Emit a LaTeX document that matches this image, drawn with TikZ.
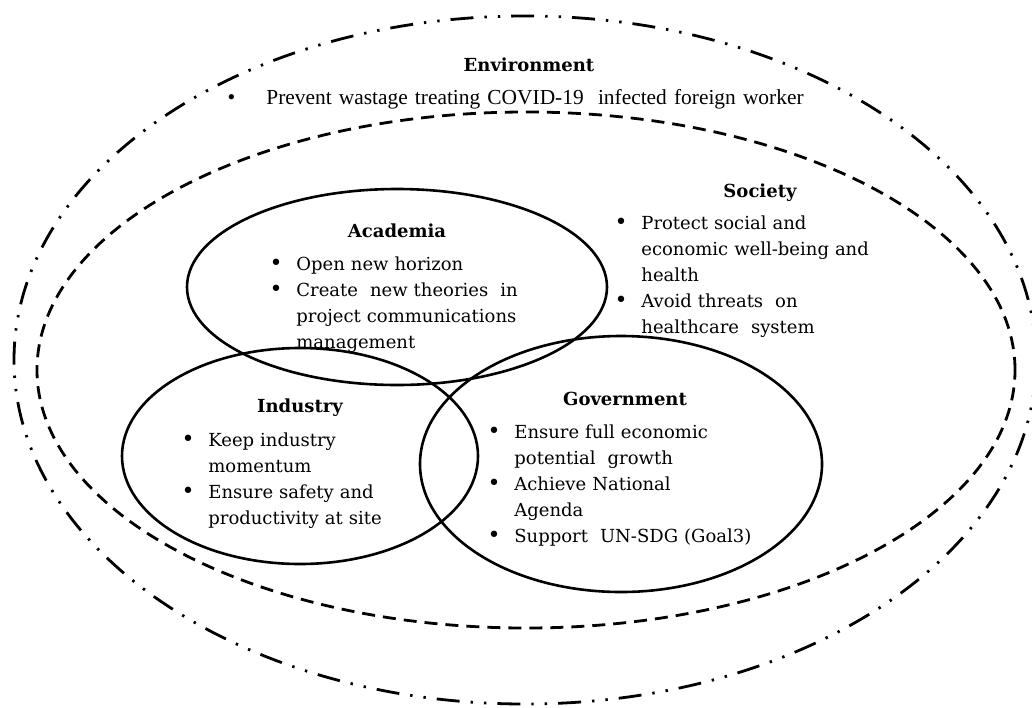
\documentclass[tikz,border=0pt]{standalone}
\usepackage{fontspec}
\setmainfont{DejaVu Serif}
\newfontfamily\timesfont{Liberation Serif}
\newcommand{\bul}[1][13pt]{\par\noindent\hangindent=#1\hangafter=1\makebox[#1][l]{\hspace{-0.4pt}\raisebox{-0.3pt}{\fontsize{11}{13}\selectfont\textbullet}}}

\begin{document}
\begin{tikzpicture}[x=0.5pt,y=-0.5pt,
  venn/.style={line width=1.3pt},
  society/.style={line width=1.4pt,dash pattern=on 6.5pt off 4pt},
  environ/.style={line width=1.4pt,dash pattern=on 11.5pt off 5.5pt on 1.2pt off 5.5pt on 1.2pt off 5.5pt},
  head/.style={anchor=base,inner sep=0pt,font=\fontsize{9}{13}\selectfont\bfseries},
  items/.style={anchor=base west,inner sep=0pt,text width=330pt,font=\fontsize{9}{13}\selectfont}]
\useasboundingbox (0,0) rectangle (1032,707);

\draw[environ] (525,360) ellipse [x radius=255.5pt,y radius=172pt];
\draw[society] (526,370) ellipse [x radius=244.5pt,y radius=129pt];

\draw[venn] (397,287) ellipse [x radius=105pt,y radius=49pt];
\draw[venn] (300,456) ellipse [x radius=89pt,y radius=54pt];
\draw[venn] (621,464) ellipse [x radius=100.5pt,y radius=64pt];

\node[head] (envhead) at (529,71) {Environment};
\node[items,font=\fontsize{10.7}{13}\timesfont] (envlist) at (228,78)
  {\bul[19pt]Prevent wastage treating COVID-19\ \ infected foreign worker\par};

\node[head] (sochead) at (760,197) {Society};
\node[items] (soclist) at (615,203)
  {\bul Protect social and\newline economic well-being and\newline health
   \bul Avoid threats\ \ on\newline healthcare\ \ system\par};

\node[head] (acahead) at (397,237) {Academia};
\node[items] (acalist) at (270,244)
  {\bul Open new horizon
   \bul Create\ \ new theories\ \ in\newline project communications\newline management\par};

\node[head] (indhead) at (300,412) {Industry};
\node[items] (indlist) at (182,420)
  {\bul Keep industry\newline momentum
   \bul Ensure safety and\newline productivity at site\par};

\node[head] (govhead) at (625,405) {Government};
\node[items] (govlist) at (488,412)
  {\bul Ensure full economic\newline potential\ \ growth
   \bul Achieve National\newline Agenda
   \bul Support\ \ UN-SDG (Goal3)\par};
\end{tikzpicture}
\end{document}
